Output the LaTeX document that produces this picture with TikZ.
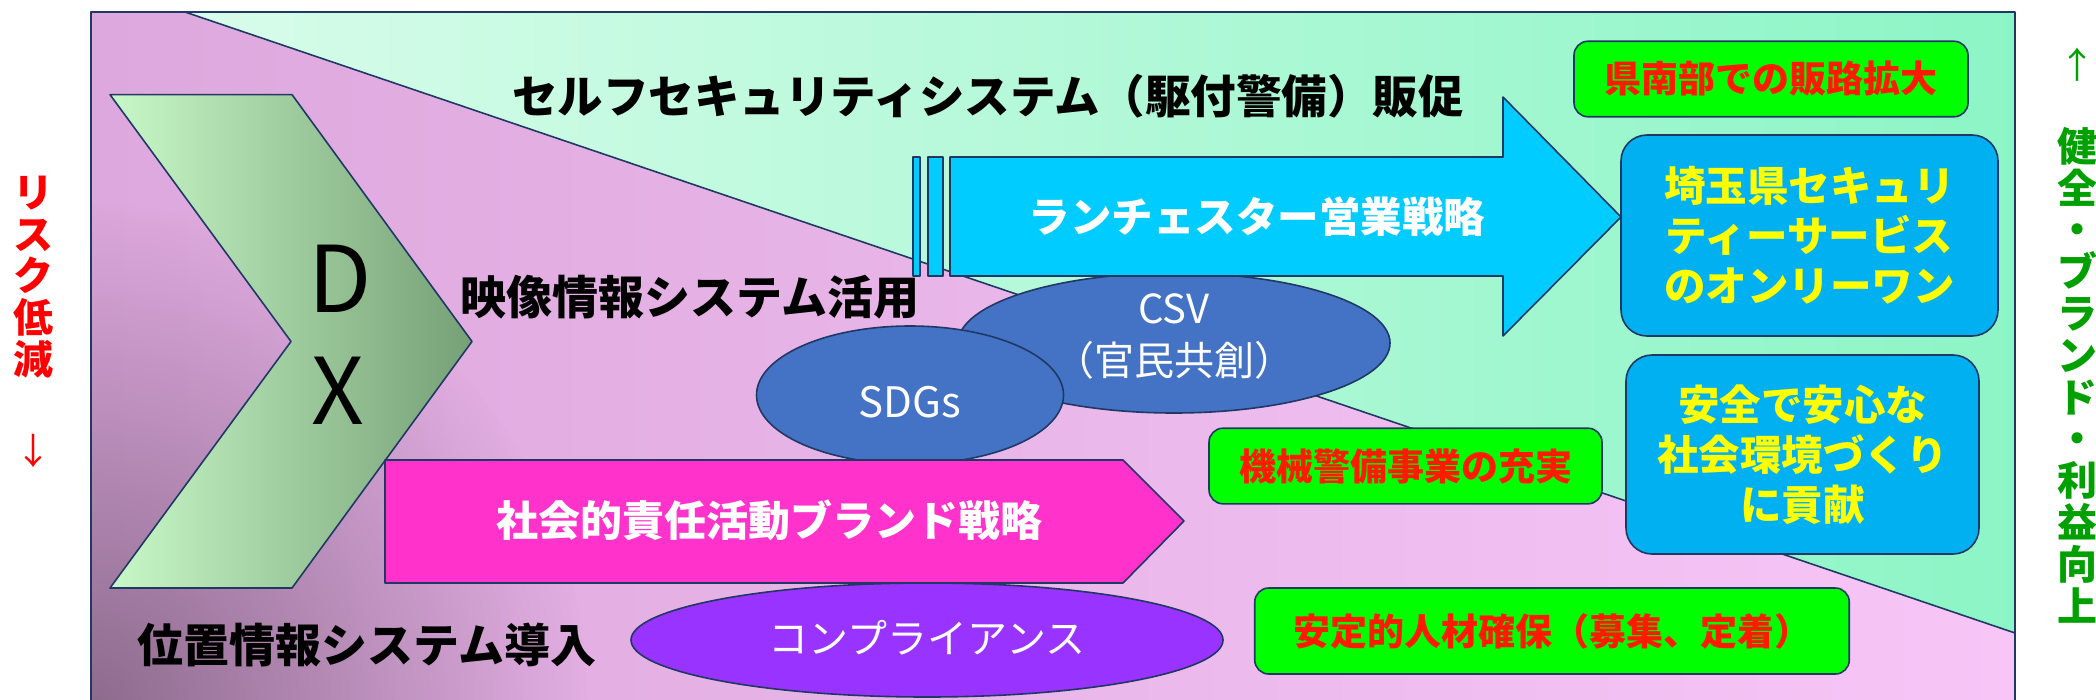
\documentclass[tikz,border=0pt]{standalone}
\usepackage{fontspec}
\setmainfont{Noto Sans CJK JP}
\usetikzlibrary{fadings,shapes.geometric}
\definecolor{navy}{HTML}{203864}
\definecolor{greenL}{HTML}{D8FCEA}
\definecolor{greenR}{HTML}{8CF5C6}
\definecolor{pinkL}{HTML}{DDA8DD}
\definecolor{pinkR}{HTML}{F7C6F7}
\definecolor{pinkDark}{HTML}{8E6C8E}
\definecolor{chevL}{HTML}{C8F8C8}
\definecolor{chevR}{HTML}{76A076}
\definecolor{cyanA}{HTML}{00CCFF}
\definecolor{blueBox}{HTML}{00B0F0}
\definecolor{pinkA}{HTML}{FF33CC}
\definecolor{purpleE}{HTML}{9933FF}
\definecolor{blueE}{HTML}{4472C4}
\definecolor{greenBox}{HTML}{00FF00}
\definecolor{redT}{HTML}{FF1A00}
\definecolor{redV}{HTML}{FF0000}
\definecolor{greenV}{HTML}{00A000}
\definecolor{yellowT}{HTML}{FFFF00}
\tikzfading[name=darkcorner, inner color=transparent!0, outer color=transparent!100]
\begin{document}
\begin{tikzpicture}[x=1pt,y=-1pt,
  outl/.style={draw=navy, line width=1.6pt, line join=round},
  blk/.style={font=\bfseries\fontsize{46}{50}\selectfont, text=black, inner sep=0pt},
  wtxt/.style={font=\fontsize{40}{52}\selectfont, text=white, inner sep=0pt, align=center},
  wbold/.style={font=\bfseries\fontsize{41.5}{50}\selectfont, text=white, inner sep=0pt},
  gbox/.style={outl, fill=greenBox, rounded corners=14pt, text=redT, inner sep=0pt,
     font=\bfseries\fontsize{37}{44}\selectfont},
  bbox/.style={outl, fill=blueBox, rounded corners=26pt, text=yellowT, inner sep=0pt, align=center,
     font=\bfseries\fontsize{41.5}{50}\selectfont},
  ell/.style={outl, ellipse, inner sep=0pt},
  vtxt/.style={inner sep=0pt, align=center, font=\bfseries\fontsize{40}{41.8}\selectfont},
  arr/.style={inner sep=0pt, font=\fontsize{36}{40}\selectfont}
]
\useasboundingbox (0,0) rectangle (2096,699);
% background regions
\begin{scope}
  \clip (91,12) -- (185,12) -- (2015,633) -- (2015,702) -- (91,702) -- cycle;
  \shade[left color=pinkL, right color=pinkR] (91,12) rectangle (2015,702);
  \fill[pinkDark, path fading=darkcorner] (91,702) circle (500pt);
\end{scope}
\shade[left color=greenL, right color=greenR] (185,12) -- (2015,12) -- (2015,633) -- cycle;
\draw[outl] (185,12) -- (2015,633);
\draw[outl] (91,702) -- (91,12) -- (2015,12) -- (2015,702);
% chevron DX
\shade[left color=chevL, right color=chevR] (110,94.6) -- (292,94.6) -- (472,341.5) -- (292,588) -- (110,588) -- (291,341.5) -- cycle;
\draw[outl] (110,94.6) -- (292,94.6) -- (472,341.5) -- (292,588) -- (110,588) -- (291,341.5) -- cycle;
\node[inner sep=0pt, font=\fontsize{92}{92}\selectfont] (d) at (340,279) {D};
\node[inner sep=0pt, font=\fontsize{92}{92}\selectfont] (x) at (338,391) {X};
% labels
\node[blk, font=\bfseries\fontsize{45.5}{50}\selectfont] (t1) at (988,96) {セルフセキュリティシステム（駆付警備）販促};
\node[blk] (t2) at (690,297) {映像情報システム活用};
\node[blk] (t3) at (367,645) {位置情報システム導入};
% CSV ellipse
\node[ell, fill=blueE, minimum width=432pt, minimum height=140pt] (csv) at (1174,343) {};
\node[wtxt] (csvt) at (1174,336) {CSV\\（官民共創）};
% blue striped arrow
\draw[outl, fill=cyanA] (913,157) rectangle (920,276);
\draw[outl, fill=cyanA] (928,157) rectangle (943,276);
\draw[outl, fill=cyanA] (950,157) -- (1503,157) -- (1503,97) -- (1621,217) -- (1503,336) -- (1503,276) -- (950,276) -- cycle;
\node[wbold] (lan) at (1257,217) {ランチェスター営業戦略};
% SDGs ellipse
\node[ell, fill=blueE, minimum width=307pt, minimum height=138pt] (sdg) at (910,395) {};
\node[wtxt, font=\fontsize{42}{50}\selectfont] (sdgt) at (910,402) {SDGs};
% pink arrow
\draw[outl, fill=pinkA] (385,460) -- (1123,460) -- (1184,521) -- (1123,583) -- (385,583) -- cycle;
\node[wbold, font=\bfseries\fontsize{42}{50}\selectfont] (csr) at (769,520) {社会的責任活動ブランド戦略};
% compliance ellipse
\node[ell, fill=purpleE, minimum width=592pt, minimum height=114pt] (comp) at (927,640) {};
\node[wtxt] (compt) at (927,638) {コンプライアンス};
% green boxes
\node[gbox, minimum width=394pt, minimum height=75.5pt] (g1) at (1771,79) {県南部での販路拡大};
\node[gbox, minimum width=393pt, minimum height=75.6pt] (g2) at (1405.5,466) {機械警備事業の充実};
\node[gbox, minimum width=594.5pt, minimum height=86pt] (g3) at (1552,631) {安定的人材確保（募集、定着）};
% blue boxes
\node[bbox, minimum width=377pt, minimum height=201pt] (b1) at (1809.5,235.5) {埼玉県セキュリ\\ティーサービス\\のオンリーワン};
\node[bbox, minimum width=353pt, minimum height=199pt] (b2) at (1802.5,454.5) {安全で安心な\\社会環境づくり\\に貢献};
% side texts
\node[vtxt, text=redV] (left) at (33.5,277) {リ\\ス\\ク\\低\\減};
\node[arr, text=redV] (ldown) at (33.5,451) {↓};
\node[vtxt, text=greenV] (right) at (2077,375) {健\\全\\・\\ブ\\ラ\\ン\\ド\\・\\利\\益\\向\\上};
\node[arr, text=greenV] (rup) at (2077,65) {↑};
\end{tikzpicture}
\end{document}
